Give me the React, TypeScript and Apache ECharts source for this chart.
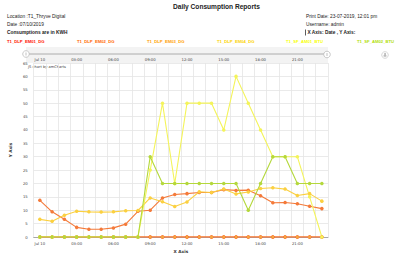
import React, { useEffect, useRef } from "react";
import * as echarts from "echarts";

const hours = ["00:00","01:00","02:00","03:00","04:00","05:00","06:00","07:00","08:00","09:00","10:00","11:00","12:00","13:00","14:00","15:00","16:00","17:00","18:00","19:00","20:00","21:00","22:00","23:00"];
const firstLabel = "Jul 10";
const yTicks = [0, 5, 10, 15, 20, 25, 30, 35, 40, 45, 50, 55, 60, 65];

const em01 = [0,0,0,0,0,0,0,0,0,0,0,0,0,0,0,0,0,0,0,0,0,0,0,0];
const em02 = [13.7, 9.4, 6.6, 3.6, 2.9, 2.9, 3.4, 4.8, 9.6, 10.0, 14.6, 15.9, 16.2, 16.6, 16.6, 17.7, 17.4, 17.5, 15.4, 12.8, 12.9, 12.4, 11.5, 10.6];
const em03 = [0,0,0,0,0,0,0,0,0,0,0,0,0,0,0,0,0,0,0,0,0,0,0,0];
const em04 = [6.6, 5.9, 8.1, 9.6, 9.4, 9.3, 9.4, 9.8, 9.9, 14.6, 13.2, 11.4, 13.1, 16.9, 16.6, 17.9, 16.1, 16.8, 18.1, 18.4, 17.9, 15.5, 16.2, 13.4];
const am01 = [0,0,0,0,0,0,0,0,0, 25, 50, 20, 50, 50, 50, 40, 60, 50, 40, 30, 30, 30, 15, 0];
const am02 = [0,0,0,0,0,0,0,0,0, 30, 20, 20, 20, 20, 20, 20, 20, 10, 20, 30, 30, 20, 20, 20];

const seriesNames = ["T1_DLP_EM01_DG", "T1_DLP_EM02_DG", "T1_DLP_EM03_DG", "T1_DLP_EM04_DG", "T1_SF_AM01_BTU", "T1_SF_AM02_BTU"];
const seriesData = [em01, em02, em03, em04, am01, am02];
const colors = ["#FF0F00", "#FF6600", "#FF9E01", "#FCD202", "#F8FF01", "#B0DE09"];
const lineColors = ["#FF0F00", "#f47a3a", "#f5a640", "#fbd040", "#f4f45a", "#b4d83c"];

export default function App() {
  const ref = useRef<HTMLDivElement>(null);
  useEffect(() => {
    if (!ref.current) return;
    const chart = echarts.init(ref.current, null, { renderer: "svg" });
    const hdrFont = "Liberation Sans, Arial, sans-serif";
    const chFont = "DejaVu Sans, Verdana, sans-serif";
    const legendX = [7, 77, 147, 217, 286, 357];
    const graphic: any[] = [
      { type: "text", left: 173, top: 3, style: { text: "Daily Consumption Reports", font: `bold 6.6px ${hdrFont}`, fill: "#222" } },
      { type: "text", left: 7, top: 14, style: { text: "Location :T1_Thryve Digital", font: `4.8px ${hdrFont}`, fill: "#222" } },
      { type: "text", left: 7, top: 22, style: { text: "Date :07/10/2019", font: `4.8px ${hdrFont}`, fill: "#222" } },
      { type: "text", left: 7, top: 30, style: { text: "Consumptions are in KWH", font: `bold 4.8px ${hdrFont}`, fill: "#222" } },
      { type: "text", left: 306, top: 13.5, style: { text: "Print Date: 23-07-2019, 12:01 pm", font: `4.8px ${hdrFont}`, fill: "#222" } },
      { type: "text", left: 306, top: 22, style: { text: "Username: admin", font: `4.8px ${hdrFont}`, fill: "#222" } },
      { type: "rect", shape: { x: 305, y: 29.5, width: 0.8, height: 6 }, style: { fill: "#333" } },
      { type: "text", left: 307.5, top: 30, style: { text: "X Axis: Date , Y Axis:", font: `bold 4.8px ${hdrFont}`, fill: "#222" } },
      { type: "rect", shape: { x: 26, y: 47, width: 302, height: 16 }, style: { fill: "#f3f3f3" }, z: -1 },
      { type: "line", shape: { x1: 26, y1: 54, x2: 328, y2: 54 }, style: { stroke: "#9a9a9a", lineWidth: 0.8 } },
      { type: "circle", shape: { cx: 26, cy: 54, r: 3.3 }, style: { fill: "#fff", stroke: "#bbb", lineWidth: 0.8 } },
      { type: "line", shape: { x1: 26, y1: 52.5, x2: 26, y2: 55.5 }, style: { stroke: "#999", lineWidth: 0.6 } },
      { type: "circle", shape: { cx: 327, cy: 54.5, r: 3.3 }, style: { fill: "#fff", stroke: "#bbb", lineWidth: 0.8 } },
      { type: "line", shape: { x1: 327, y1: 53, x2: 327, y2: 56 }, style: { stroke: "#999", lineWidth: 0.6 } },
      { type: "circle", shape: { cx: 385, cy: 55, r: 3.3 }, style: { fill: "#fff", stroke: "#ccc", lineWidth: 0.8 } },
      { type: "circle", shape: { cx: 385, cy: 54, r: 0.9 }, style: { fill: "#aaa" } },
      { type: "rect", shape: { x: 383.6, y: 55.2, width: 2.8, height: 1.4 }, style: { fill: "#aaa" } },
      { type: "text", left: 28, top: 65, style: { text: "JS chart by amCharts", font: `3.6px ${chFont}`, fill: "#444" } },
    ];
    seriesNames.forEach((n, i) => {
      graphic.push({ type: "text", left: legendX[i], top: 39, style: { text: n, font: `bold 4.2px ${hdrFont}`, fill: colors[i] } });
    });
    const option: any = {
      animation: false,
      backgroundColor: "#fff",
      grid: { left: 26, right: 70, top: 63, bottom: 23, show: false },
      graphic,
      xAxis: [
        {
          type: "category",
          data: hours,
          boundaryGap: true,
          name: "X Axis",
          nameLocation: "middle",
          nameGap: 12,
          nameTextStyle: { fontSize: 4.2, fontWeight: "bold", color: "#333", fontFamily: chFont },
          axisLine: { show: true, lineStyle: { color: "#a8a8a8", width: 1 } },
          axisTick: { show: false },
          axisLabel: {
            interval: 2,
            fontSize: 3.8,
            color: "#444",
            margin: 4,
            fontFamily: chFont,
            formatter: (v: string, i: number) => (i === 0 ? firstLabel : v),
          },
          splitLine: { show: true, interval: 0, lineStyle: { color: "#e4e4e4", width: 0.8 } },
        },
        {
          type: "category",
          data: hours,
          boundaryGap: true,
          position: "top",
          axisLine: { show: false },
          axisTick: { show: false },
          splitLine: { show: false },
          axisLabel: {
            interval: 2,
            fontSize: 3.8,
            color: "#444",
            margin: 1.5,
            fontFamily: chFont,
            formatter: (v: string, i: number) => (i === 0 ? firstLabel : v),
          },
        },
      ],
      yAxis: {
        type: "value",
        min: yTicks[0],
        max: yTicks[yTicks.length - 1],
        interval: 5,
        name: "Y Axis",
        nameLocation: "middle",
        nameGap: 12,
        nameTextStyle: { fontSize: 4.2, fontWeight: "bold", color: "#333", fontFamily: chFont },
        axisLine: { show: false },
        axisTick: { show: false },
        axisLabel: { fontSize: 3.8, color: "#444", margin: 6, fontFamily: chFont },
        splitLine: { show: true, lineStyle: { color: "#e4e4e4", width: 0.8 } },
      },
      series: seriesNames.map((n, i) => ({
        name: n,
        type: "line",
        data: seriesData[i],
        xAxisIndex: 0,
        symbol: "circle",
        symbolSize: 3.5,
        lineStyle: { color: lineColors[i], width: 1.1 },
        itemStyle: { color: lineColors[i] },
      })),
    };
    chart.setOption(option);
    return () => chart.dispose();
  }, []);
  return <div ref={ref} style={{ position: "fixed", left: 0, top: 0, width: 398, height: 260 }} />;
}
